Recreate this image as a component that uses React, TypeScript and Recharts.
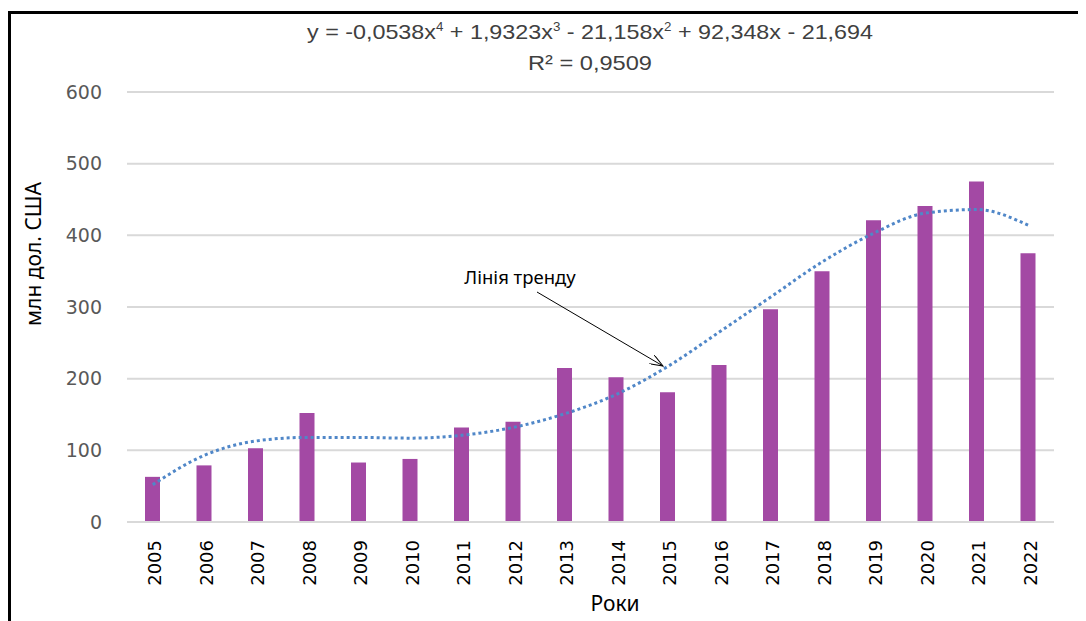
import React from 'react';
import { ComposedChart, Bar, Line, XAxis, YAxis, CartesianGrid } from 'recharts';

const years = ['2005', '2006', '2007', '2008', '2009', '2010', '2011', '2012', '2013', '2014', '2015', '2016', '2017', '2018', '2019', '2020', '2021', '2022'];
const values = [63, 79, 103, 152, 83, 88, 132, 140, 215, 202, 181, 219, 297, 350, 421, 441, 475, 375];
const trend = [52, 93, 113, 118, 118, 117, 121, 132, 151, 178, 217, 265, 314, 363, 403, 431, 436, 414];
const yTicks = [0, 100, 200, 300, 400, 500, 600];

const data = years.map((year, i) => ({ year, value: values[i], trend: trend[i] }));

const XTick = (props: any) => {
  const { x, y, payload } = props;
  const ty = y + 18;
  return (
    <text
      x={x + 2}
      y={ty}
      transform={`rotate(-90, ${x + 2}, ${ty})`}
      textAnchor="end"
      dominantBaseline="central"
      fontFamily="DejaVu Sans"
      fontSize={18}
      fill="#000"
    >
      {payload.value}
    </text>
  );
};

export default function App() {
  return (
    <div style={{ position: 'relative', width: 1078, height: 613, background: '#fff' }}>
      <ComposedChart
        width={1078}
        height={613}
        data={data}
        margin={{ top: 84, right: 32, left: 0, bottom: 0 }}
      >
        <CartesianGrid vertical={false} stroke="#d9d9d9" strokeWidth={2} />
        <XAxis
          dataKey="year"
          interval={0}
          height={99}
          tickLine={false}
          tickSize={0}
          tickMargin={0}
          axisLine={{ stroke: '#d9d9d9', strokeWidth: 2 }}
          tick={<XTick />}
        />
        <YAxis
          width={119}
          domain={[0, 600]}
          ticks={yTicks}
          axisLine={false}
          tickLine={false}
          tickSize={0}
          tickMargin={25}
          tick={{ fontFamily: 'DejaVu Sans', fontSize: 19, fill: '#595959' }}
        />
        <Bar dataKey="value" fill="#a349a4" barSize={15} isAnimationActive={false} />
        <Line
          dataKey="trend"
          type="monotone"
          stroke="#5087c8"
          strokeWidth={3}
          strokeDasharray="3 3"
          dot={false}
          isAnimationActive={false}
        />
      </ComposedChart>
      <svg
        width={1078}
        height={613}
        style={{ position: 'absolute', left: 0, top: 0, pointerEvents: 'none' }}
      >
        <defs>
          <marker id="arr" markerWidth="14" markerHeight="10" refX="13" refY="5" orient="auto" markerUnits="userSpaceOnUse">
            <path d="M0,0 L13,5 L0,10" fill="none" stroke="#000" strokeWidth={1} />
          </marker>
        </defs>
        <text x={582} y={31} textAnchor="middle" fontFamily="Liberation Sans Narrow, Liberation Sans" fontSize={21} fill="#404040" textLength={566} lengthAdjust="spacingAndGlyphs">
          y = -0,0538x<tspan dy={-8} fontSize={12}>4</tspan><tspan dy={8}> + 1,9323x</tspan><tspan dy={-8} fontSize={12}>3</tspan><tspan dy={8}> - 21,158x</tspan><tspan dy={-8} fontSize={12}>2</tspan><tspan dy={8}> + 92,348x - 21,694</tspan>
        </text>
        <text x={582} y={62} textAnchor="middle" fontFamily="Liberation Sans Narrow, Liberation Sans" fontSize={21} fill="#404040" textLength={124} lengthAdjust="spacingAndGlyphs">
          R² = 0,9509
        </text>
        <text x={25} y={246} transform="rotate(-90, 25, 246)" textAnchor="middle" dominantBaseline="central" fontFamily="Noto Sans" fontSize={21} fill="#000">
          млн дол. США
        </text>
        <text x={607} y={603} textAnchor="middle" fontFamily="Noto Sans" fontSize={21} fill="#000">
          Роки
        </text>
        <text x={512} y={276} textAnchor="middle" fontFamily="Noto Sans" fontSize={18.5} fill="#000">
          Лінія тренду
        </text>
        <line x1={529} y1={284} x2={655} y2={358} stroke="#000" strokeWidth={1} markerEnd="url(#arr)" />
      </svg>
      <div
        style={{
          position: 'absolute',
          left: 0,
          top: 3,
          width: 1078,
          height: 610,
          borderTop: '3px solid #000',
          borderLeft: '3px solid #000',
          boxSizing: 'border-box',
          pointerEvents: 'none',
        }}
      />
    </div>
  );
}
